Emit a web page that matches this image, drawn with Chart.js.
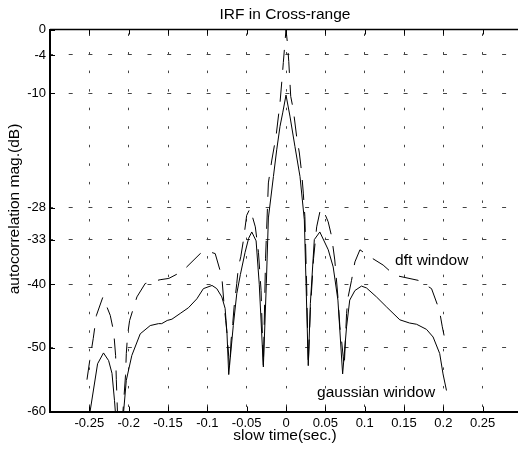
<!DOCTYPE html>
<html><head><meta charset="utf-8">
<script src="https://cdn.jsdelivr.net/npm/chart.js@4.4.1/dist/chart.umd.min.js"></script>
<style>
html,body{margin:0;padding:0;overflow:hidden;background:#fff;width:518px;height:452px}
#wrap{position:absolute;left:0;top:0;width:560px;height:452px}
</style>
</head><body><div id="wrap"><canvas id="c" width="560" height="452"></canvas></div>
<script>
const xTicks = [-0.25,-0.2,-0.15,-0.1,-0.05,0,0.05,0.1,0.15,0.2,0.25];
const yTicks = [0,-4,-10,-28,-33,-40,-50,-60];

const gaussTime = [-0.253,-0.2395,-0.232,-0.2255,-0.2212,-0.218,-0.212,-0.203,-0.196,-0.1853,-0.1726,-0.162,-0.158,-0.151,-0.145,-0.1345,-0.124,-0.1133,-0.105,-0.094,-0.088,-0.0816,-0.0774,-0.075,-0.0728,-0.067,-0.0626,-0.058,-0.052,-0.0475,-0.0435,-0.038,-0.034,-0.0288,-0.025,-0.0224,-0.016,-0.0118,-0.0076,-0.0042,0,0.005,0.0114,0.0178,0.0233,0.0255,0.0283,0.031,0.036,0.043,0.0537,0.06,0.066,0.072,0.077,0.081,0.0876,0.096,0.1024,0.115,0.128,0.1447,0.157,0.166,0.1786,0.187,0.1954,0.1996,0.204];
const gaussMag  = [-63.1,-52.5,-50.8,-52,-54,-58.3,-68,-55.1,-51.2,-47.8,-46.5,-46.2,-46.2,-45.7,-45.5,-44.6,-43.7,-42.3,-40.7,-40.2,-40.7,-42,-43.8,-47.8,-54.2,-46.5,-41.5,-38.5,-35,-32.8,-31.8,-33.2,-40,-53,-39.9,-29.6,-23.1,-18.9,-15.2,-13.1,-10.3,-13.6,-18.4,-23.1,-29.9,-40,-52.8,-43,-33,-31.8,-34.6,-37.3,-42.5,-54.1,-46.7,-42.5,-41,-40.3,-40.6,-42,-43.6,-45.6,-46.1,-46.3,-47.1,-48.3,-50.9,-54.1,-56.7];

const dftTime = [-0.253,-0.2495,-0.245,-0.241,-0.2327,-0.2234,-0.219,-0.2166,-0.2157,-0.212,-0.2065,-0.204,-0.203,-0.2014,-0.1988,-0.1895,-0.179,-0.16,-0.149,-0.132,-0.109,-0.1,-0.09,-0.0816,-0.0787,-0.0766,-0.075,-0.0728,-0.0715,-0.0698,-0.0677,-0.066,-0.0626,-0.0605,-0.0575,-0.054,-0.05,-0.0457,-0.039,-0.035,-0.0317,-0.0288,-0.026,-0.0224,-0.018,-0.0127,-0.0076,-0.0055,-0.0034,0,0.0017,0.0035,0.006,0.0093,0.0135,0.017,0.02,0.022,0.024,0.0262,0.0283,0.031,0.035,0.039,0.044,0.0495,0.0536,0.058,0.062,0.066,0.0685,0.0706,0.0727,0.074,0.077,0.079,0.0833,0.0876,0.094,0.1066,0.1235,0.138,0.168,0.185,0.195,0.1987,0.203];
const dftMag  = [-55,-52,-48.5,-44.9,-42,-44.9,-47.5,-51.2,-55,-68,-58.7,-54.3,-50.9,-48,-45.7,-42,-39.9,-39.3,-39.1,-38,-35.2,-34.8,-35.2,-38.8,-43.3,-45.7,-47.7,-51.4,-53,-48.8,-46.2,-43.6,-39.9,-37.3,-35.7,-33,-29.2,-28.1,-31,-35,-41,-53,-36,-24.1,-20.5,-16.8,-11.5,-8.4,-5.2,0,-2,-5,-10.5,-12.6,-16.8,-19.4,-22.6,-25.7,-29.4,-39.9,-52.8,-44,-36,-31,-28.1,-29,-30.2,-32.5,-36.2,-42,-46.7,-48.8,-51.4,-53,-44.6,-42,-39.4,-36.5,-34.6,-35.7,-37,-38.6,-39.4,-40.7,-44.1,-46.7,-49.3];

const FONT = '"Liberation Sans", Arial, sans-serif';
const toPts = (xs, ys) => xs.map((x, i) => ({x: x, y: ys[i]}));

const decor = {
  id: 'decor',
  afterDatasetsDraw(chart) {
    const {ctx, chartArea: a, scales: {x, y}} = chart;
    ctx.save();
    ctx.strokeStyle = '#000';
    ctx.lineWidth = 1;
    ctx.beginPath();
    xTicks.forEach(v => {
      const px = Math.round(x.getPixelForValue(v)) + 0.5;
      ctx.moveTo(px, a.bottom); ctx.lineTo(px, a.bottom - 5);
      ctx.moveTo(px, a.top); ctx.lineTo(px, a.top + 5);
    });
    yTicks.forEach(v => {
      const py = Math.round(y.getPixelForValue(v)) + 0.5;
      ctx.moveTo(a.left, py); ctx.lineTo(a.left + 5, py);
    });
    ctx.stroke();
    ctx.lineWidth = 1.5;
    ctx.beginPath();
    ctx.moveTo(a.left, a.top); ctx.lineTo(a.right, a.top);
    ctx.stroke();
    ctx.restore();
  },
  afterDraw(chart) {
    const {ctx, scales: {x, y}} = chart;
    ctx.save();
    ctx.fillStyle = '#000';
    ctx.font = '15.5px ' + FONT;
    ctx.textAlign = 'center';
    ctx.textBaseline = 'middle';
    ctx.fillText('IRF in Cross-range', 285, 15);
    ctx.fillText('slow time(sec.)', 285, 436);
    ctx.save();
    ctx.translate(15, 209);
    ctx.rotate(-Math.PI / 2);
    ctx.fillText('autocorrelation mag.(dB)', 0, 0);
    ctx.restore();
    ctx.textAlign = 'left';
    ctx.fillText('dft window', x.getPixelForValue(0.1387), y.getPixelForValue(-36.3));
    ctx.fillText('gaussian window', x.getPixelForValue(0.0395), y.getPixelForValue(-57.1));
    ctx.restore();
  }
};

new Chart(document.getElementById('c'), {
  type: 'scatter',
  data: {
    datasets: [
      {label: 'dft window', data: toPts(dftTime, dftMag), showLine: true, pointRadius: 0,
       borderColor: '#000', borderWidth: 1, borderDash: [20, 12], tension: 0},
      {label: 'gaussian window', data: toPts(gaussTime, gaussMag), showLine: true, pointRadius: 0,
       borderColor: '#000', borderWidth: 1, tension: 0}
    ]
  },
  options: {
    responsive: false,
    animation: false,
    devicePixelRatio: 1,
    layout: {padding: {left: 0, right: 38, top: 29.5, bottom: 0}},
    plugins: {legend: {display: false}, title: {display: false}, tooltip: {enabled: false}},
    scales: {
      x: {
        type: 'linear', min: -0.3, max: 0.3,
        afterBuildTicks: s => { s.ticks = xTicks.map(v => ({value: v})); },
        afterFit: s => { s.height = 40.5; },
        ticks: {font: {family: FONT, size: 13}, color: '#000', padding: 4, maxRotation: 0, autoSkip: false,
                callback: v => String(v)},
        grid: {color: '#444', lineWidth: 1, drawTicks: false},
        border: {display: true, color: '#000', width: 2, dash: [2.5, 16.05], dashOffset: 14.55}
      },
      y: {
        type: 'linear', min: -60, max: 0,
        afterBuildTicks: s => { s.ticks = yTicks.map(v => ({value: v})); },
        afterFit: s => { s.width = 50; },
        ticks: {font: {family: FONT, size: 13}, color: '#000', padding: 4, autoSkip: false,
                callback: v => String(v)},
        grid: {color: '#444', lineWidth: 1, drawTicks: false},
        border: {display: true, color: '#000', width: 2, dash: [4, 15.7], dashOffset: 2}
      }
    }
  },
  plugins: [decor]
});
</script></body></html>
